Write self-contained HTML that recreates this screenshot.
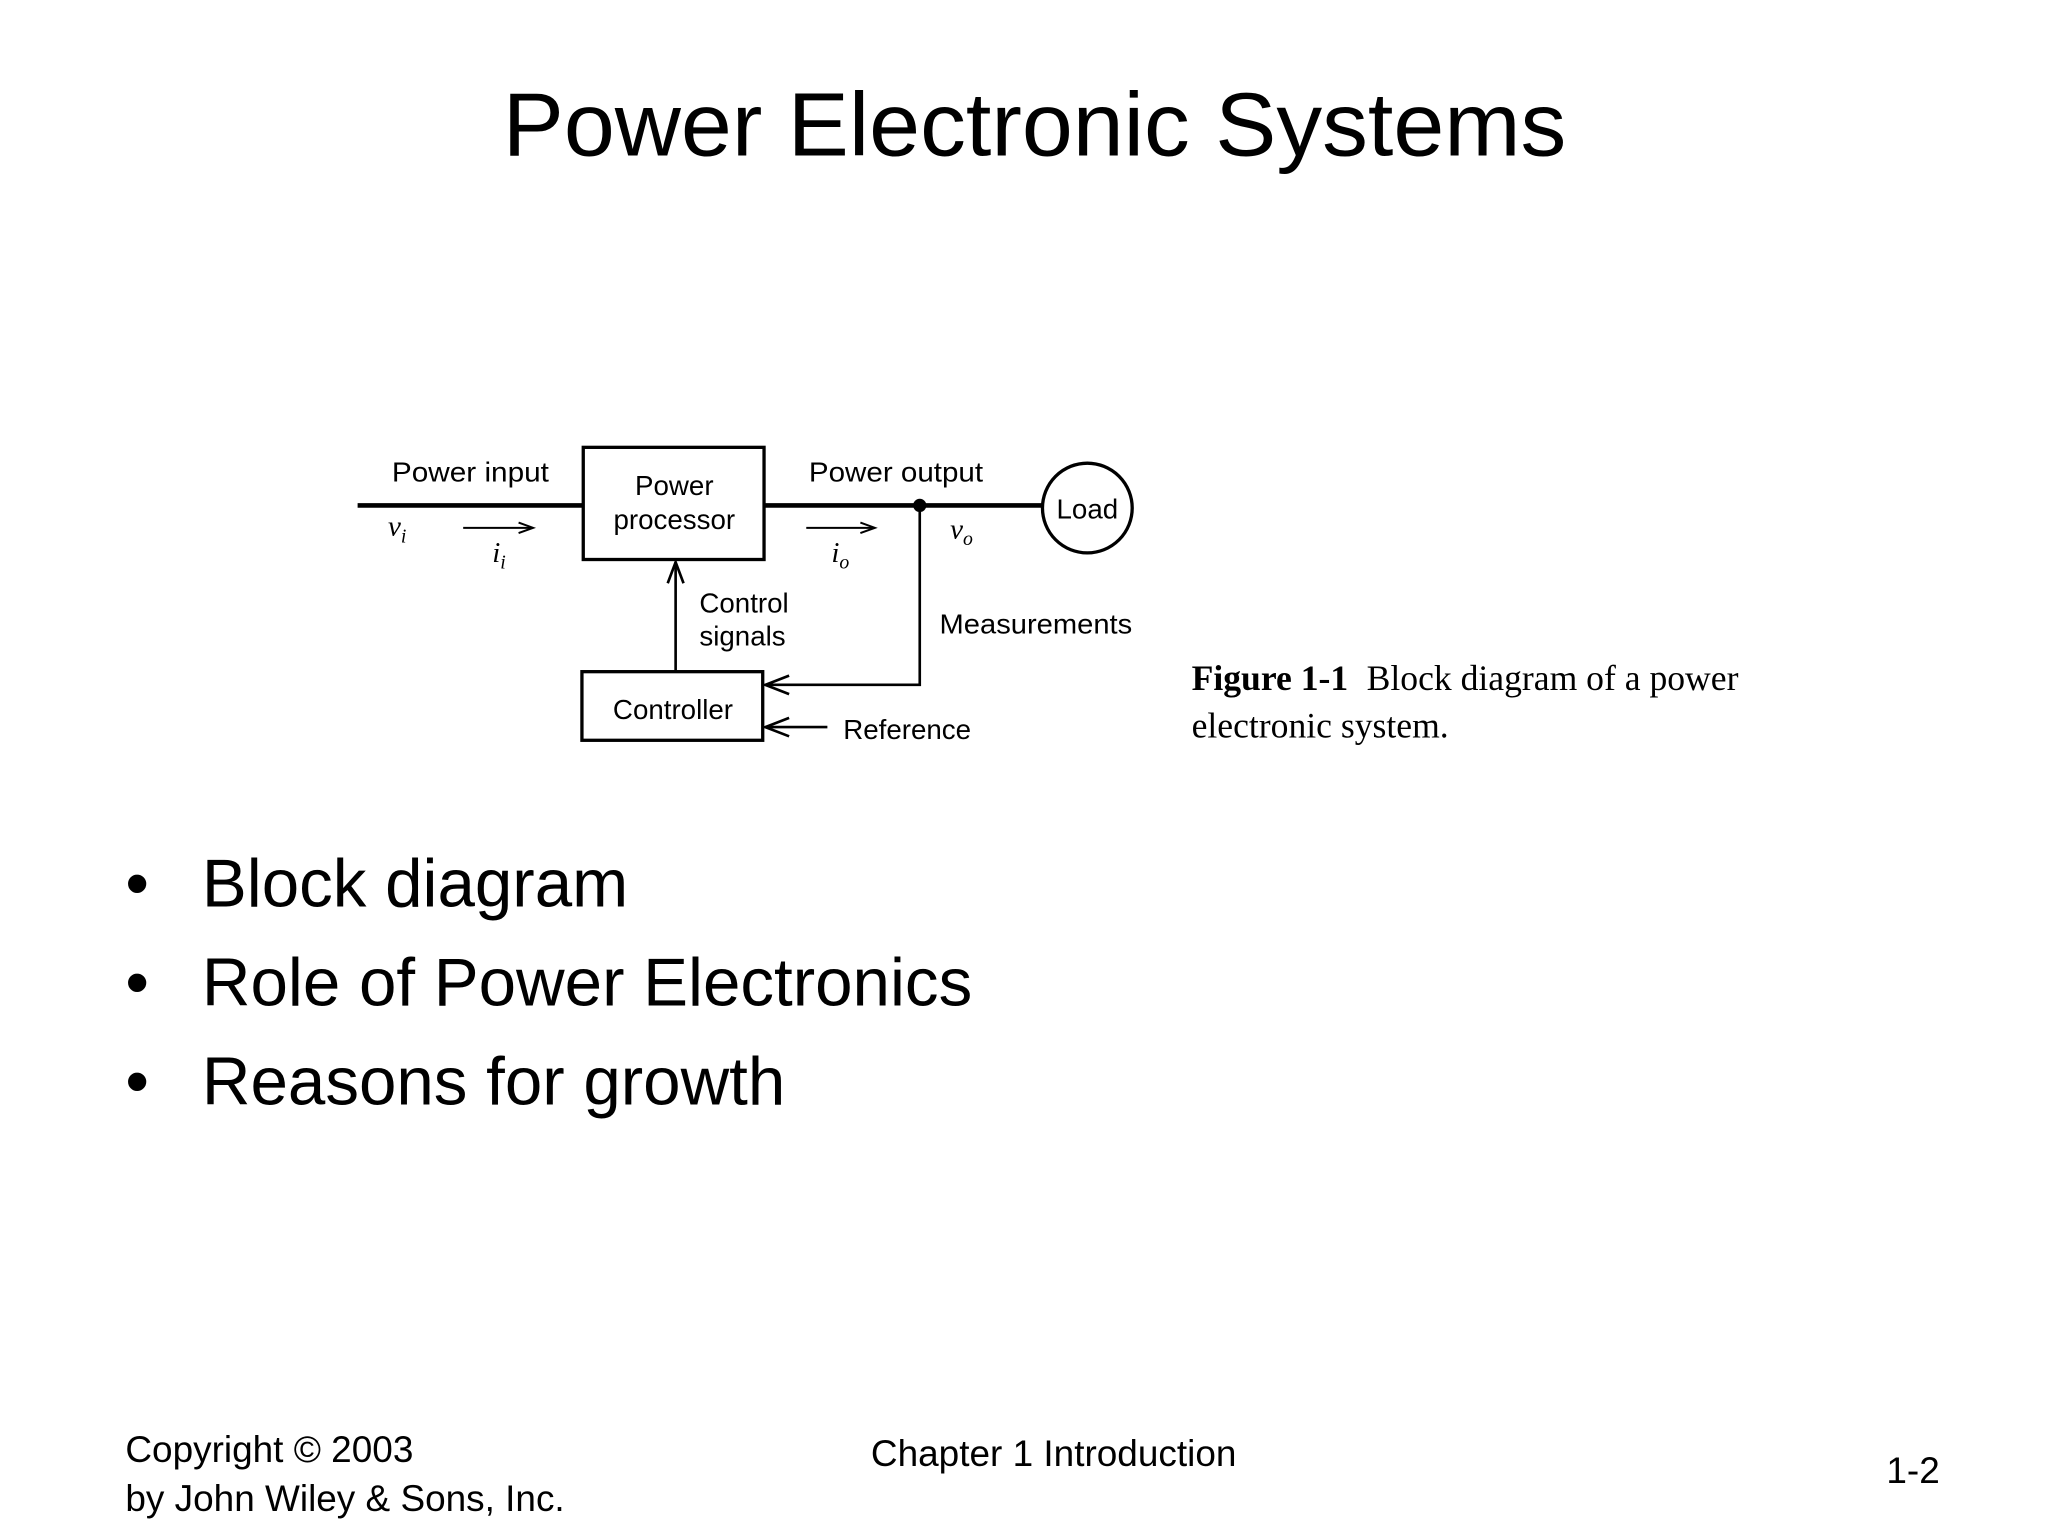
<!DOCTYPE html>
<html><head><meta charset="utf-8"><style>
html,body{margin:0;padding:0;background:#fff;}
svg{display:block;}
.s{font-family:"Liberation Sans",sans-serif;fill:#000;}
.r{font-family:"Liberation Serif",serif;fill:#000;}
</style></head><body>
<svg width="2048" height="1536" viewBox="0 0 1552 1164" xmlns="http://www.w3.org/2000/svg">
<text class="s" x="784" y="118" font-size="68" text-anchor="middle" textLength="806" lengthAdjust="spacingAndGlyphs">Power Electronic Systems</text>

<g stroke="#000" fill="none">
<line x1="271" y1="383" x2="442" y2="383" stroke-width="3.5"/>
<line x1="579" y1="383" x2="790" y2="383" stroke-width="3.5"/>
<rect x="442" y="339" width="137" height="85" stroke-width="2.5"/>
<rect x="441" y="509" width="137" height="52" stroke-width="2.5"/>
<circle cx="824" cy="385" r="34" stroke-width="2.5"/>
<polyline points="697,383 697,519 580,519" stroke-width="2"/>
<polyline points="598,512 580,519 598,526" stroke-width="2"/>
<line x1="627" y1="551" x2="580" y2="551" stroke-width="2"/>
<polyline points="598,544 580,551 598,558" stroke-width="2"/>
<line x1="512" y1="509" x2="512" y2="426" stroke-width="2"/>
<polyline points="506,442 512,426 518,442" stroke-width="2"/>
<line x1="351" y1="400" x2="403" y2="400" stroke-width="1.5"/>
<polyline points="393,396 404,400 393,404" stroke-width="1.5"/>
<line x1="611" y1="400" x2="662" y2="400" stroke-width="1.5"/>
<polyline points="652,396 663,400 652,404" stroke-width="1.5"/>
</g>
<circle cx="697" cy="383" r="5" fill="#000"/>

<g class="s" font-size="21">
<text x="297" y="365" textLength="119" lengthAdjust="spacingAndGlyphs">Power input</text>
<text x="511" y="375" text-anchor="middle">Power</text>
<text x="511" y="401" text-anchor="middle">processor</text>
<text x="613" y="365" textLength="132" lengthAdjust="spacingAndGlyphs">Power output</text>
<text x="824" y="393" text-anchor="middle">Load</text>
<text x="530" y="464">Control</text>
<text x="530" y="489">signals</text>
<text x="712" y="480" textLength="146" lengthAdjust="spacingAndGlyphs">Measurements</text>
<text x="510" y="545" text-anchor="middle">Controller</text>
<text x="639" y="560">Reference</text>
</g>
<g class="r" font-size="22" font-style="italic">
<text x="294" y="406">v<tspan font-size="15" dy="5">i</tspan></text>
<text x="373" y="426">i<tspan font-size="15" dy="5">i</tspan></text>
<text x="630" y="426">i<tspan font-size="15" dy="5">o</tspan></text>
<text x="720" y="408">v<tspan font-size="15" dy="5">o</tspan></text>
</g>

<text class="r" x="903" y="523" font-size="27"><tspan font-weight="bold">Figure 1-1</tspan><tspan dx="14">Block diagram of a power</tspan></text>
<text class="r" x="903" y="559" font-size="27">electronic system.</text>

<g class="s" font-size="51">
<text x="95" y="687">•</text><text x="153" y="687">Block diagram</text>
<text x="95" y="762">•</text><text x="153" y="762">Role of Power Electronics</text>
<text x="95" y="837">•</text><text x="153" y="837">Reasons for growth</text>
</g>

<g class="s" font-size="28">
<text x="95" y="1108">Copyright © 2003</text>
<text x="95" y="1145">by John Wiley &amp; Sons, Inc.</text>
<text x="660" y="1111">Chapter 1 Introduction</text>
<text x="1470" y="1124" text-anchor="end">1-2</text>
</g>
</svg>
</body></html>
